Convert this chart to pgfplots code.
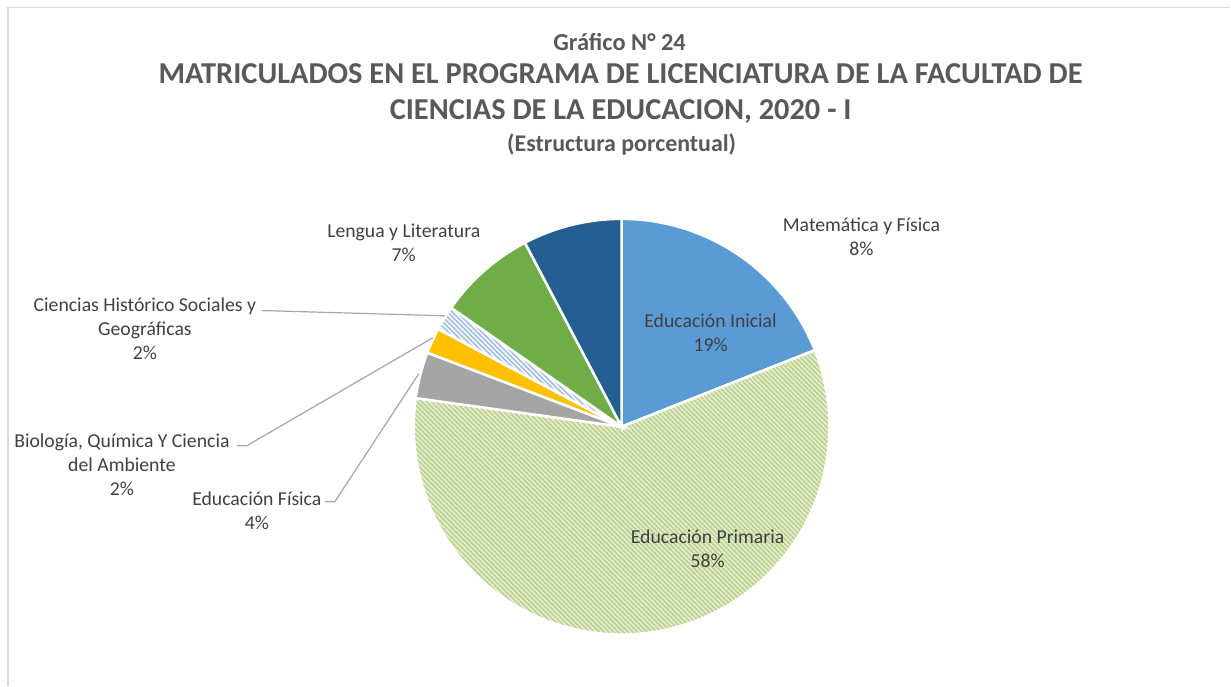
\documentclass[border=0pt]{standalone}
\usepackage{pgfplots}
\pgfplotsset{compat=1.18}
\usepackage{pgfplotstable}
\usepackage{fontspec}
\setmainfont{Carlito}
\usetikzlibrary{patterns.meta}
\definecolor{titlegray}{HTML}{595959}
\definecolor{labgray}{HTML}{404040}
\definecolor{cIni}{HTML}{5B9BD5}
\definecolor{cPriBase}{HTML}{E3ECCD}
\definecolor{cPriStr}{HTML}{BCD28E}
\definecolor{cFis}{HTML}{A5A5A5}
\definecolor{cBio}{HTML}{FFC000}
\definecolor{cHisStr}{HTML}{9FBDE0}
\definecolor{cLen}{HTML}{70AD47}
\definecolor{cMat}{HTML}{255E91}
\definecolor{framegray}{HTML}{D9D9D9}
\definecolor{leadgray}{HTML}{A6A6A6}
% Percentages (clockwise from 12 o'clock)
% Educacion Inicial 19.0, Educacion Primaria 58.2, Educacion Fisica 3.6,
% Biologia 2.0, Ciencias Historico 1.9, Lengua 7.6, Matematica 7.7
\newcommand{\cx}{622}
\newcommand{\cy}{259}
\newcommand{\rr}{208}
\begin{document}
\begin{tikzpicture}
\begin{axis}[
  scale only axis, width=1231bp, height=686bp,
  xmin=0, xmax=1231, ymin=0, ymax=686,
  axis lines=none, clip=false,
  variable=\t,
]
% full canvas
\path (axis cs:0,0) rectangle (axis cs:1231,686);
% slices: domain = cumulative percentage * 3.6
\addplot[fill=cIni, draw=white, line width=2.5bp, domain={0*3.6}:{19.0*3.6}, samples=80]
  ({\cx+\rr*sin(\t)},{\cy+\rr*cos(\t)}) -- (axis cs:\cx,\cy) -- cycle;
\addplot[preaction={fill=cPriBase}, pattern={Lines[angle=-45,distance=3.4bp,line width=1.5bp]}, pattern color=cPriStr, draw=white, line width=2.5bp, domain={19.0*3.6}:{77.2*3.6}, samples=200]
  ({\cx+\rr*sin(\t)},{\cy+\rr*cos(\t)}) -- (axis cs:\cx,\cy) -- cycle;
\addplot[fill=cFis, draw=white, line width=2.5bp, domain={77.2*3.6}:{80.8*3.6}, samples=20]
  ({\cx+\rr*sin(\t)},{\cy+\rr*cos(\t)}) -- (axis cs:\cx,\cy) -- cycle;
\addplot[fill=cBio, draw=white, line width=2.5bp, domain={80.8*3.6}:{82.8*3.6}, samples=15]
  ({\cx+\rr*sin(\t)},{\cy+\rr*cos(\t)}) -- (axis cs:\cx,\cy) -- cycle;
\addplot[preaction={fill=white}, pattern={Lines[angle=-45,distance=3.4bp,line width=1.6bp]}, pattern color=cHisStr, draw=white, line width=2.5bp, domain={82.8*3.6}:{84.7*3.6}, samples=15]
  ({\cx+\rr*sin(\t)},{\cy+\rr*cos(\t)}) -- (axis cs:\cx,\cy) -- cycle;
\addplot[fill=cLen, draw=white, line width=2.5bp, domain={84.7*3.6}:{92.3*3.6}, samples=40]
  ({\cx+\rr*sin(\t)},{\cy+\rr*cos(\t)}) -- (axis cs:\cx,\cy) -- cycle;
\addplot[fill=cMat, draw=white, line width=2.5bp, domain={92.3*3.6}:{100*3.6}, samples=40]
  ({\cx+\rr*sin(\t)},{\cy+\rr*cos(\t)}) -- (axis cs:\cx,\cy) -- cycle;

% frame
\draw[framegray, line width=1.5bp] (axis cs:8,0) -- (axis cs:8,678.5) -- (axis cs:1231,678.5);

% titles
\node[text=titlegray, font=\fontsize{24.5}{28}\selectfont\bfseries] at (axis cs:620,644) {Gráfico N° 24};
\node[text=titlegray, font=\fontsize{30.5}{36}\selectfont\bfseries] at (axis cs:621,612) {MATRICULADOS EN EL PROGRAMA DE LICENCIATURA DE LA FACULTAD DE};
\node[text=titlegray, font=\fontsize{30.5}{36}\selectfont\bfseries] at (axis cs:621,574) {CIENCIAS DE LA EDUCACION, 2020 - I};
\node[text=titlegray, font=\fontsize{24}{28}\selectfont\bfseries] at (axis cs:622,541) {(Estructura porcentual)};

% leader lines
\draw[leadgray, line width=1.2bp] (axis cs:262,375) -- (axis cs:272,375) -- (axis cs:445,370);
\draw[leadgray, line width=1.2bp] (axis cs:237,240) -- (axis cs:247,240) -- (axis cs:433,348);
\draw[leadgray, line width=1.2bp] (axis cs:325,184) -- (axis cs:335,184) -- (axis cs:419,312);

% labels
\tikzset{lab/.style={text=labgray, font=\fontsize{19.8}{24}\selectfont, align=center}}
\node[lab] at (axis cs:862,449) {Matemática y Física\\8\%};
\node[lab] at (axis cs:711,353) {Educación Inicial\\19\%};
\node[lab] at (axis cs:708,137) {Educación Primaria\\58\%};
\node[lab] at (axis cs:404,443) {Lengua y Literatura\\7\%};
\node[lab] at (axis cs:145,357) {Ciencias Histórico Sociales y\\Geográficas\\2\%};
\node[lab] at (axis cs:122,221) {Biología, Química Y Ciencia\\del Ambiente\\2\%};
\node[lab] at (axis cs:257,175) {Educación Física\\4\%};
\end{axis}
\end{tikzpicture}
\end{document}
